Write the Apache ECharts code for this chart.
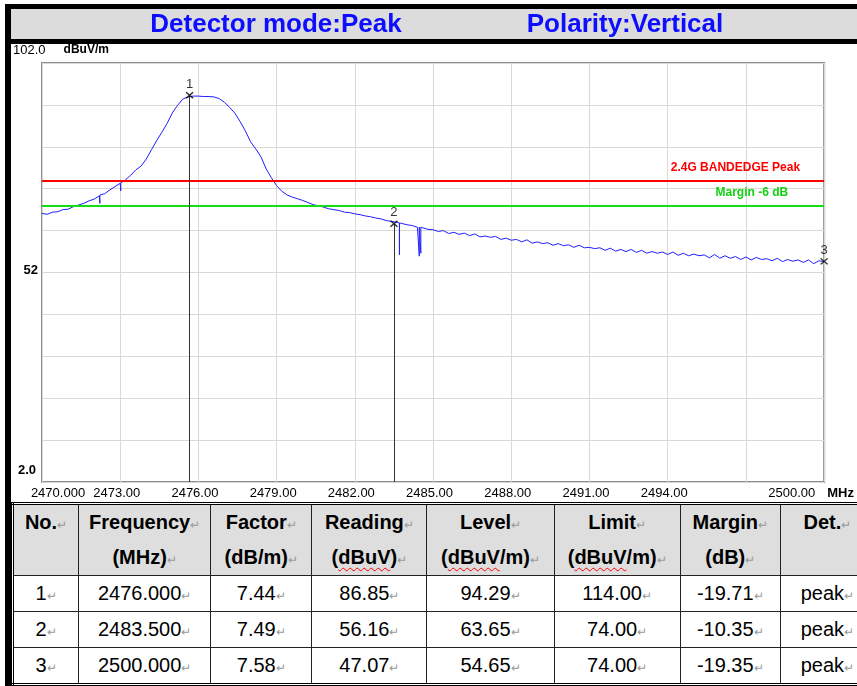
<!DOCTYPE html>
<html>
<head>
<meta charset="utf-8">
<script src="https://cdn.jsdelivr.net/npm/echarts@6/dist/echarts.min.js"></script>
<style>
  html, body { margin: 0; padding: 0; background: #fff; }
  body { width: 857px; height: 686px; overflow: hidden; position: relative; font-family: 'Liberation Sans', Arial, sans-serif; }
  #chart { position: absolute; left: 0; top: 0; width: 857px; height: 502px; }
  #leftBar { position: absolute; left: 5px; top: 4px; width: 6px; height: 682px; background: #000; z-index: 5; }
  #tbl { position: absolute; left: 11px; top: 502px; border-collapse: collapse; table-layout: fixed; border: 3px double #000; }
  #tbl td { border: 1px solid #222; text-align: center; font-size: 20px; padding: 0; color: #000; white-space: nowrap; overflow: hidden; }
  #tbl tr.head td { background: #dedede; font-weight: bold; line-height: 35px; height: 70px; vertical-align: top; }
  #tbl tr.row td { height: 35px; line-height: 35px; }
  .ret { color: #9a9a9a; font-size: 12px; font-weight: normal; line-height: 1; }
  .sp { text-decoration: underline wavy #f00; text-decoration-thickness: 1px; text-underline-offset: 3px; }
</style>
</head>
<body>
<div id="chart"></div>
<div id="leftBar"></div>
<table id="tbl"></table>
<script>
// trace, 2470.0 .. 2500.0 MHz every 0.2 MHz (dBuV/m)
const traceStart = 2470
const traceStep = 0.2
const traceDb = [
  66.1, 65.9, 66.4, 66.5, 67.0, 67.1, 67.7, 68.1, 68.5, 69.1,
  69.5, 70.3, 70.8, 71.7, 72.5, 73.3, 74.1, 75.2, 76.5, 77.4,
  79.1, 81.3, 83.5, 85.5, 87.6, 90.1, 91.9, 93.4, 93.9, 94.1,
  94.1, 94.0, 94.0, 93.9, 93.5, 92.6, 91.4, 90.0, 88.0, 85.8,
  83.2, 81.5, 79.6, 76.7, 74.6, 72.7, 71.4, 70.5, 70.0, 69.6,
  69.2, 68.7, 68.2, 67.9, 67.6, 67.2, 67.0, 66.8, 66.4, 66.3,
  66.0, 65.8, 65.5, 65.3, 65.0, 64.8, 64.4, 64.2, 64.0, 63.7,
  63.4, 63.2, 62.8, 62.8, 62.3, 62.2, 61.8, 62.0, 61.3, 61.6,
  61.1, 61.4, 60.8, 61.2, 60.5, 60.7, 60.4, 60.6, 59.9, 60.2,
  59.7, 59.9, 59.3, 59.8, 59.0, 59.3, 58.9, 59.1, 58.5, 58.9,
  58.4, 58.6, 58.0, 58.5, 57.9, 58.0, 57.7, 57.9, 57.3, 57.8,
  57.1, 57.5, 57.0, 57.5, 56.8, 57.3, 56.6, 57.0, 56.6, 56.9,
  56.3, 56.9, 56.1, 56.6, 56.0, 56.4, 56.0, 56.2, 55.5, 56.3,
  55.4, 56.0, 55.4, 55.8, 55.1, 55.7, 55.0, 55.6, 55.1, 55.3,
  54.8, 55.4, 54.6, 55.1, 54.7, 55.0, 54.4, 55.0, 54.1, 54.8,
  54.6
]

// narrow dips in the trace
const spikeMHz = [2472.22, 2473.02, 2483.71, 2484.47, 2484.53]
const spikeTop = [70.5, 73.4, 63.8, 62.8, 62.8]
const spikeBottom = [68.5, 71.5, 56.2, 55.9, 56.6]

// markers
const markerNo = ['1', '2', '3']
const markerMHz = [2475.66, 2483.5, 2500]
const markerDb = [94.29, 63.65, 54.65]

// limit lines
const limitDb = 74
const marginDb = 68
const limitName = '2.4G BANDEDGE Peak'
const marginName = 'Margin -6 dB'

// axes
const xMin = 2470, xMax = 2500, xStep = 3
const xTickText = ['2470.000', '2473.00', '2476.00', '2479.00', '2482.00', '2485.00', '2488.00', '2491.00', '2494.00', '', '2500.00']
const xUnit = 'MHz'
const yMin = 2, yMax = 102, yStep = 10
const yTopText = '102.0'
const yLabelValues = [52, 2]
const yLabelText = ['52', '2.0']
const yUnit = 'dBuV/m'

// table
const tableHead = [['No.', ''], ['Frequency', '(MHz)'], ['Factor', '(dB/m)'], ['Reading', '(<span class="sp">dBuV</span>)'],
  ['Level', '(<span class="sp">dBuV</span>/m)'], ['Limit', '(<span class="sp">dBuV</span>/m)'], ['Margin', '(dB)'], ['Det.', '']]
const tableFreq = ['2476.000', '2483.500', '2500.000']
const tableFactor = ['7.44', '7.49', '7.58']
const tableReading = ['86.85', '56.16', '47.07']
const tableLevel = ['94.29', '63.65', '54.65']
const tableLimit = ['114.00', '74.00', '74.00']
const tableMargin = ['-19.71', '-10.35', '-19.35']
const tableDet = ['peak', 'peak', 'peak']
const colWidths = [66, 132, 101, 115, 127, 126, 100, 95]

const FONT = 'Liberation Sans'

// build trace points, with the dips merged in
const tracePts = traceDb.map((v, i) => [traceStart + i * traceStep, v])
spikeMHz.forEach((f, i) => {
  tracePts.push([f, spikeTop[i]], [f, spikeBottom[i]], [f + 0.001, spikeTop[i]])
})
tracePts.sort((a, b) => a[0] - b[0])

const chart = echarts.init(document.getElementById('chart'))

chart.setOption({
  animation: false,
  backgroundColor: '#fff',
  graphic: [
    { type: 'rect', shape: { x: 5, y: 4, width: 852, height: 40 }, style: { fill: '#000' } },
    { type: 'rect', shape: { x: 11, y: 9, width: 846, height: 30 }, style: { fill: '#dcdcdc' } },
    {
      type: 'text', x: 276, y: 25,
      style: { text: 'Detector mode:Peak', font: 'bold 26px "Liberation Sans"', fill: '#0d0dff', align: 'center', verticalAlign: 'middle' }
    },
    {
      type: 'text', x: 625, y: 25,
      style: { text: 'Polarity:Vertical', font: 'bold 26px "Liberation Sans"', fill: '#0d0dff', align: 'center', verticalAlign: 'middle' }
    }
  ],
  grid: {
    left: 42, top: 63, width: 784, height: 419,
    show: true, backgroundColor: '#fff', borderColor: '#8e8e8e', borderWidth: 2
  },
  xAxis: {
    type: 'value', min: xMin, max: xMax, interval: xStep,
    axisLine: { show: false }, axisTick: { show: false },
    splitLine: { lineStyle: { color: '#d9d9d2', width: 1 } },
    axisLabel: {
      margin: 5,
      fontFamily: FONT, fontSize: 13, color: '#000',
      formatter: v => {
        const i = Math.round((v - xMin) / xStep)
        const t = xTickText[i]
        if (!t) return ''
        if (i === 0) return '{a|' + t + '}'
        if (i === xTickText.length - 1) return '{e|' + t + '}{u|' + xUnit + '}'
        return '{m|' + t + '}'
      },
      rich: {
        a: { fontFamily: FONT, fontSize: 13, color: '#000', padding: [0, 0, 0, 32] },
        m: { fontFamily: FONT, fontSize: 13, color: '#000', padding: [0, 7, 0, 0] },
        e: { fontFamily: FONT, fontSize: 13, color: '#000' },
        u: { fontFamily: FONT, fontSize: 13, fontWeight: 'bold', color: '#000', padding: [0, 26, 0, 12] }
      }
    }
  },
  yAxis: {
    type: 'value', min: yMin, max: yMax, interval: yStep,
    name: '{v|' + yTopText + '}{u|' + yUnit + '}', nameLocation: 'end', nameGap: 13,
    nameTextStyle: {
      align: 'center', verticalAlign: 'middle', padding: [0, 0, 0, 38],
      rich: {
        v: { fontFamily: FONT, fontSize: 13, color: '#000' },
        u: { fontFamily: FONT, fontSize: 12, fontWeight: 'bold', color: '#000', padding: [0, 0, 0, 18] }
      }
    },
    axisLine: { show: false }, axisTick: { show: false },
    splitLine: { lineStyle: { color: '#d9d9d2', width: 1 } },
    axisLabel: {
      margin: 4,
      fontFamily: FONT, fontSize: 13, color: '#000',
      formatter: v => {
        const k = yLabelValues.indexOf(Math.round(v))
        if (k < 0) return ''
        return '{' + ['m', 'b'][k] + '|' + yLabelText[k] + '}'
      },
      rich: {
        m: { fontFamily: FONT, fontSize: 13, fontWeight: 'bold', color: '#000', padding: [0, 0, 5, 0] },
        b: { fontFamily: FONT, fontSize: 13, fontWeight: 'bold', color: '#000', padding: [0, 2, 24, 0] }
      }
    }
  },
  series: [
    {
      name: 'trace',
      type: 'line',
      data: tracePts,
      showSymbol: false,
      color: '#1f1fff',
      lineStyle: { width: 1, color: '#1f1fff' },
      z: 3,
      markLine: {
        silent: true,
        symbol: 'none',
        animation: false,
        data: [
          {
            yAxis: limitDb,
            lineStyle: { color: '#ff0000', width: 2, type: 'solid' },
            label: {
              show: true, position: 'insideEndTop', distance: [24, 7], formatter: limitName,
              fontFamily: FONT, fontSize: 12, fontWeight: 'bold', color: '#ff0000'
            }
          },
          {
            yAxis: marginDb,
            lineStyle: { color: '#12e012', width: 2, type: 'solid' },
            label: {
              show: true, position: 'insideEndTop', distance: [36, 7], formatter: marginName,
              fontFamily: FONT, fontSize: 12, fontWeight: 'bold', color: '#12d012'
            }
          }
        ]
      }
    },
    {
      name: 'markers',
      type: 'scatter',
      data: markerMHz.map((f, i) => [f, markerDb[i], markerNo[i]]),
      symbol: 'path://M0,0L10,10M10,0L0,10',
      symbolSize: [7, 6],
      itemStyle: { color: 'rgba(0,0,0,0)', borderColor: '#000', borderWidth: 1.4 },
      clip: false,
      z: 5,
      label: {
        show: true, position: 'top', distance: 1,
        formatter: p => p.value[2],
        fontFamily: FONT, fontSize: 13, color: '#000'
      },
      markLine: {
        silent: true,
        symbol: 'none',
        animation: false,
        label: { show: false },
        lineStyle: { color: '#333', width: 1, type: 'solid' },
        data: markerMHz.slice(0, 2).map((f, i) => [{ coord: [f, yMin] }, { coord: [f, markerDb[i]] }])
      }
    }
  ]
})

// table below the plot
const tbl = document.getElementById('tbl')
tbl.style.width = (colWidths.reduce((a, b) => a + b, 0) + 4) + 'px'
const ret = '<span class="ret">\u21b5</span>'
let html = '<colgroup>' + colWidths.map(w => '<col style="width:' + w + 'px">').join('') + '</colgroup>'
html += '<tr class="head">' + tableHead.map(h => '<td>' + h[0] + ret + (h[1] ? '<br>' + h[1] + ret : '') + '</td>').join('') + '</tr>'
markerNo.forEach((n, i) => {
  const cells = [n, tableFreq[i], tableFactor[i], tableReading[i], tableLevel[i], tableLimit[i], tableMargin[i], tableDet[i]]
  html += '<tr class="row">' + cells.map(c => '<td>' + c + ret + '</td>').join('') + '</tr>'
})
tbl.innerHTML = html
</script>
</body>
</html>
